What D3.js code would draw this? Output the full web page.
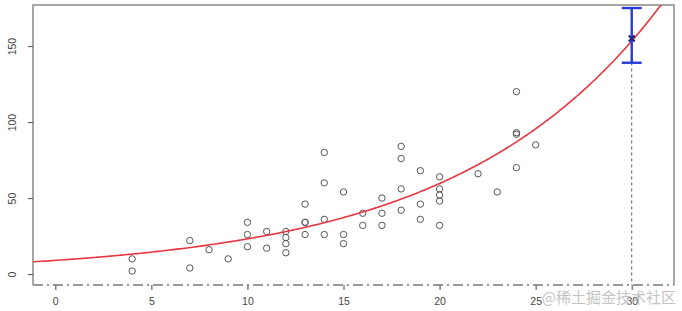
<!DOCTYPE html>
<html>
<head>
<meta charset="utf-8">
<script src="https://cdn.jsdelivr.net/npm/d3@7"></script>
<style>
  body { margin: 0; background: #fff; }
  svg { display: block; }
</style>
</head>
<body>
<svg id="chart" width="682" height="311"></svg>
<script>
(function() {
  'use strict';

  // cars data: speed / stopping distance
  const speed = [4, 4, 7, 7, 8, 9, 10, 10, 10, 11, 11, 12, 12, 12, 12, 13, 13, 13, 13, 14,
    14, 14, 14, 15, 15, 15, 16, 16, 17, 17, 17, 18, 18, 18, 18, 19, 19, 19, 20, 20,
    20, 20, 20, 22, 23, 24, 24, 24, 24, 25];
  const dist = [2, 10, 4, 22, 16, 10, 18, 26, 34, 17, 28, 14, 20, 24, 28, 26, 34, 34, 46, 26,
    36, 60, 80, 20, 26, 54, 32, 40, 32, 40, 50, 42, 56, 76, 84, 36, 46, 68, 32, 48,
    52, 56, 64, 66, 54, 70, 92, 93, 120, 85];

  // exponential fit dist = a * exp(b * speed)
  const fitA = 9.0;
  const fitB = 0.0945;

  // prediction at speed 30 with interval
  const predX = [30];
  const predY = [155];
  const predLow = [139];
  const predHigh = [175];

  const xTicks = [0, 5, 10, 15, 20, 25, 30];
  const yTicks = [0, 50, 100, 150];

  let svg = d3.select('#chart');

  let left = 33, right = 674, top = 5, bottom = 285;

  let x = d3.scaleLinear().domain([-1.16, 32.2]).range([left, right]);
  let y = d3.scaleLinear().domain([-7.2, 177]).range([bottom, top]);

  let grey = '#666';

  // frame: left, top, right solid
  svg.append('path')
    .attr('d', `M${left},${bottom}V${top}H${right}V${bottom}`)
    .attr('fill', 'none')
    .attr('stroke', '#8a8a8a')
    .attr('stroke-width', 1.5);

  // bottom dash-dot line
  svg.append('line')
    .attr('x1', left).attr('x2', right)
    .attr('y1', bottom).attr('y2', bottom)
    .attr('stroke', '#777')
    .attr('stroke-width', 1.5)
    .attr('stroke-dasharray', '10,4,2,4');

  // axes
  let xAxis = d3.axisBottom(x).tickValues(xTicks).tickSize(5).tickPadding(8);
  let gx = svg.append('g').attr('transform', `translate(0,${bottom})`).call(xAxis);
  gx.select('.domain').remove();

  let yAxis = d3.axisLeft(y).tickValues(yTicks).tickSize(5).tickPadding(0);
  let gy = svg.append('g').attr('transform', `translate(${left},0)`).call(yAxis);
  gy.select('.domain').remove();

  svg.selectAll('.tick line').attr('stroke', grey).attr('stroke-width', 1.2);
  svg.selectAll('.tick text')
    .style('font-family', 'Liberation Sans, Arial, sans-serif')
    .style('font-size', '10.5px')
    .attr('fill', '#444');

  gy.selectAll('.tick text')
    .attr('x', 0).attr('dy', 0)
    .attr('text-anchor', 'middle')
    .attr('transform', 'translate(-20,0) rotate(-90)')
    .attr('dominant-baseline', 'middle');

  // dotted vertical from prediction
  svg.append('line')
    .attr('x1', x(predX[0])).attr('x2', x(predX[0]))
    .attr('y1', y(predY[0])).attr('y2', bottom)
    .attr('stroke', '#555')
    .attr('stroke-width', 1)
    .attr('stroke-dasharray', '3,3');

  // data points
  svg.append('g').selectAll('circle')
    .data(speed)
    .enter()
    .append('circle')
    .attr('cx', d => x(d))
    .attr('cy', (d, i) => y(dist[i]))
    .attr('r', 3.2)
    .attr('fill', 'none')
    .attr('stroke', '#555')
    .attr('stroke-width', 1);

  // fitted curve, clipped to plot
  svg.append('clipPath').attr('id', 'plotclip')
    .append('rect')
    .attr('x', left).attr('y', top)
    .attr('width', right - left).attr('height', bottom - top);

  let curveX = d3.range(-1.16, 32.2, 0.1);
  let line = d3.line()
    .x(d => x(d))
    .y(d => y(fitA * Math.exp(fitB * d)));

  svg.append('path')
    .datum(curveX)
    .attr('clip-path', 'url(#plotclip)')
    .attr('d', line)
    .attr('fill', 'none')
    .attr('stroke', '#e8363f')
    .attr('stroke-width', 1.6);

  // error bar
  let eb = svg.append('g')
    .attr('stroke', '#2a3bd8')
    .attr('stroke-width', 2.4);
  let ex = x(predX[0]);
  eb.append('line').attr('x1', ex).attr('x2', ex)
    .attr('y1', y(predLow[0])).attr('y2', y(predHigh[0]));
  [predLow[0], predHigh[0]].forEach(v => {
    eb.append('line')
      .attr('x1', ex - 10).attr('x2', ex + 10)
      .attr('y1', y(v)).attr('y2', y(v));
  });

  // predicted point marker
  let py = y(predY[0]);
  svg.append('path')
    .attr('d', `M${ex - 3},${py - 3}L${ex + 3},${py + 3}M${ex - 3},${py + 3}L${ex + 3},${py - 3}`)
    .attr('stroke', '#1a237e')
    .attr('stroke-width', 2);

  // watermark
  svg.append('text')
    .attr('x', 676)
    .attr('y', 303)
    .attr('text-anchor', 'end')
    .style('font-family', 'Noto Sans CJK SC, sans-serif')
    .style('font-size', '15px')
    .attr('fill', '#bdbdbd')
    .attr('opacity', 0.9)
    .text('@稀土掘金技术社区');
})();
</script>
</body>
</html>
